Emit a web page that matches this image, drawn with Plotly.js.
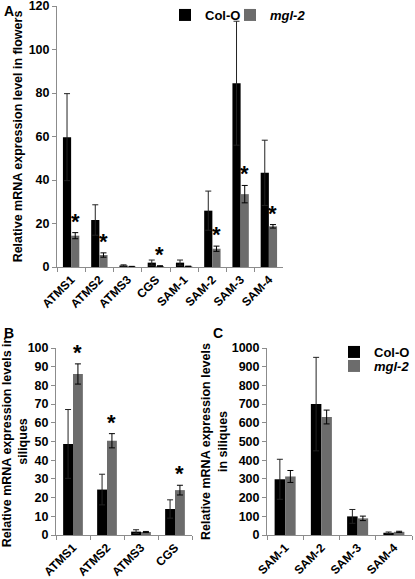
<!DOCTYPE html>
<html>
<head>
<meta charset="utf-8">
<script src="https://cdn.plot.ly/plotly-3.0.1.min.js"></script>
<style>html,body{margin:0;padding:0;background:#fff;}#chart{width:415px;height:579px;}</style>
</head>
<body>
<div id="chart"></div>
<script>
// Panel A: flowers
const catA = ['ATMS1','ATMS2','ATMS3','CGS','SAM-1','SAM-2','SAM-3','SAM-4'];
const colA = [59.7, 21.6, 0.7, 2.0, 2.0, 25.9, 84.5, 43.3];
const colAErr = [20, 7, 0.3, 1.2, 1.2, 9, 28.5, 15];
const mglA = [14.4, 5.5, 0.2, 0.4, 0.3, 8.4, 33.5, 18.7];
const mglAErr = [1.4, 1.0, 0.1, 0.2, 0.1, 1.2, 4.0, 0.8];
const sigA = [true, true, false, true, false, true, true, true];

// Panel B: siliques
const catB = ['ATMS1','ATMS2','ATMS3','CGS'];
const colB = [48.7, 24.3, 1.8, 13.9];
const colBErr = [18.4, 8.2, 1.0, 4.9];
const mglB = [86.1, 50.4, 1.6, 24.0];
const mglBErr = [5.4, 3.8, 0.3, 2.6];
const sigB = [true, true, false, true];

// Panel C: siliques
const catC = ['SAM-1','SAM-2','SAM-3','SAM-4'];
const colC = [298, 700, 99.5, 12];
const colCErr = [107, 250, 37, 4];
const mglC = [313, 631, 89, 17];
const mglCErr = [32, 37, 12, 3];

const seriesNames = ['Col-O', '<i>mgl-2</i>'];

const FONT = 'Liberation Sans, Arial, Helvetica, sans-serif';
const BLACK = '#000000';
const GREY = '#6c6c6c';
const W = 415, H = 579;
const px = v => v / W;
const py = v => 1 - v / H;

function bar(cats, vals, errs, name, color, errColor, xa, ya, legend, show) {
  return {
    type: 'bar', x: cats, y: vals, name: name,
    marker: {color: color, line: {width: 0}},
    error_y: {type: 'data', array: errs, visible: true, color: errColor, thickness: 1, width: 3},
    xaxis: xa, yaxis: ya, legend: legend, showlegend: show,
    hoverinfo: 'x+y'
  };
}

const data = [
  bar(catA, colA, colAErr, seriesNames[0], BLACK, '#222222', 'x', 'y', 'legend', true),
  bar(catA, mglA, mglAErr, seriesNames[1], GREY, BLACK, 'x', 'y', 'legend3', true),
  bar(catB, colB, colBErr, seriesNames[0], BLACK, '#222222', 'x2', 'y2', 'legend', false),
  bar(catB, mglB, mglBErr, seriesNames[1], GREY, BLACK, 'x2', 'y2', 'legend', false),
  bar(catC, colC, colCErr, seriesNames[0], BLACK, '#222222', 'x3', 'y3', 'legend2', true),
  bar(catC, mglC, mglCErr, seriesNames[1], GREY, BLACK, 'x3', 'y3', 'legend4', true)
];

const BARGAP = 0.42;
const mglOffset = (1 - BARGAP) / 4;

const annotations = [];
function stars(cats, vals, errs, sig, xref, yref) {
  cats.forEach((c, i) => {
    if (!sig[i]) return;
    annotations.push({
      x: i + mglOffset, y: vals[i] + errs[i], xref: xref, yref: yref,
      text: '*', showarrow: false, yanchor: 'bottom', yshift: -3,
      font: {family: FONT, size: 22, color: '#000', weight: 'bold'}
    });
  });
}
stars(catA, mglA, mglAErr, sigA, 'x', 'y');
stars(catB, mglB, mglBErr, sigB, 'x2', 'y2');

[['A', 2, 1], ['B', 2, 323], ['C', 211, 323]].forEach(([t, x, y]) => {
  annotations.push({
    text: t, xref: 'paper', yref: 'paper', x: px(x), y: py(y),
    xanchor: 'left', yanchor: 'top', showarrow: false,
    font: {family: FONT, size: 14, color: '#000', weight: 'bold'}
  });
});

const tickFont = {family: FONT, size: 12.5, color: '#000', weight: 'bold'};
const xTickFont = {family: FONT, size: 12, color: '#000', weight: 'bold'};
const titleFont = {family: FONT, size: 12.5, color: '#000', weight: 'bold'};

function xAxis(dom, anchor) {
  return {
    domain: dom, anchor: anchor, type: 'category',
    showline: true, linecolor: '#8c8c8c', linewidth: 1,
    ticks: 'outside', tickson: 'boundaries', ticklen: 4, tickcolor: '#8c8c8c',
    tickangle: -45, tickfont: xTickFont, showgrid: false, zeroline: false,
    automargin: false, fixedrange: true, ticklabeloverflow: 'allow'
  };
}
function yAxis(dom, anchor, range, dtick, title) {
  return {
    domain: dom, anchor: anchor, range: range, dtick: dtick, tick0: 0,
    showline: true, linecolor: '#8c8c8c', linewidth: 1,
    ticks: 'outside', ticklen: 4, tickcolor: '#8c8c8c',
    tickfont: tickFont, showgrid: false, zeroline: false,
    automargin: false, fixedrange: true, ticklabeloverflow: 'allow',
    title: {text: title, font: titleFont}
  };
}

function leg(x, yTop) {
  return {
    orientation: 'v', x: px(x), y: py(yTop), xanchor: 'left', yanchor: 'top',
    font: {family: FONT, size: 13, color: '#000', weight: 'bold'},
    bgcolor: 'rgba(0,0,0,0)', borderwidth: 0, itemwidth: 30
  };
}

const layout = {
  width: W, height: H,
  margin: {l: 0, r: 0, t: 0, b: 0, autoexpand: false},
  paper_bgcolor: '#ffffff', plot_bgcolor: '#ffffff',
  barmode: 'group', bargap: BARGAP, bargroupgap: 0,
  font: {family: FONT, color: '#000'},
  xaxis: xAxis([px(57), px(283)], 'y'),
  yaxis: yAxis([py(267), py(6)], 'x', [0, 120], 20, 'Relative mRNA expression level in flowers'),
  xaxis2: xAxis([px(56), px(192)], 'y2'),
  yaxis2: yAxis([py(535), py(348)], 'x2', [0, 100], 10, 'Relative mRNA expression levels in<br>siliques'),
  xaxis3: xAxis([px(267), px(412)], 'y3'),
  yaxis3: yAxis([py(535), py(348)], 'x3', [0, 1000], 100, 'Relative mRNA expression levels<br>in siliques'),
  legend: leg(165, 0),
  legend3: leg(230, 0),
  legend2: leg(334, 337),
  legend4: leg(334, 351),
  annotations: annotations,
  showlegend: true
};

Plotly.newPlot('chart', data, layout, {staticPlot: true, displayModeBar: false});
</script>
</body>
</html>
